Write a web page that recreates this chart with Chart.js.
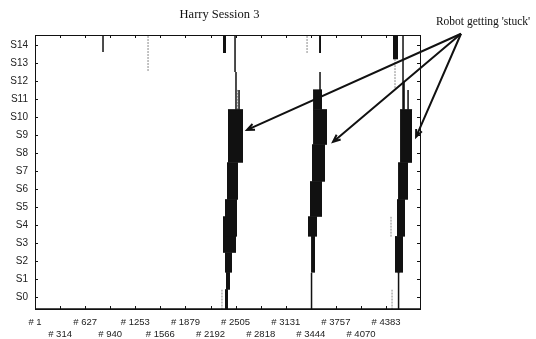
<!DOCTYPE html>
<html>
<head>
<meta charset="utf-8">
<title>Harry Session 3</title>
<script src="https://cdn.jsdelivr.net/npm/chart.js@4.4.0/dist/chart.umd.min.js"></script>
<style>
  html, body { margin: 0; padding: 0; background: #fff; }
  canvas { display: block; }
</style>
</head>
<body>
<canvas id="sessionChart" width="536" height="339"></canvas>
<script>
// y axis: robot states
const stateLabels = ['S0', 'S1', 'S2', 'S3', 'S4', 'S5', 'S6', 'S7', 'S8', 'S9', 'S10', 'S11', 'S12', 'S13', 'S14'];
// x axis: sample numbers that get a label
const sampleTicks = [1, 314, 627, 940, 1253, 1566, 1879, 2192, 2505, 2818, 3131, 3444, 3757, 4070, 4383];

// dense flipping between states shows up as solid blocks (sample from/to, state from/to)
const blockStart = [2348, 2410, 2398, 2373, 2348, 2373, 2385, 2373,   3547, 3472, 3472, 3459, 3434, 3409, 3447,   4470, 4558, 4533, 4520, 4495, 4527];
const blockEnd   = [2385, 2598, 2535, 2523, 2510, 2460, 2435, 2410,   3572, 3584, 3646, 3622, 3584, 3522, 3497,   4533, 4708, 4658, 4620, 4595, 4552];
const blockLow   = [13.55, 7.45, 5.4, 3.35, 2.45, 1.35, 0.4, -0.7,    13.55, 10.4, 8.45, 6.4, 4.45, 3.35, 1.35,   13.2, 7.45, 5.4, 3.35, 1.35, -0.7];
const blockHigh  = [14.6, 10.4, 7.45, 5.4, 4.45, 2.45, 1.35, 0.4,     14.6, 11.5, 10.4, 8.45, 6.4, 4.45, 3.35,    14.6, 10.4, 7.45, 5.4, 3.35, 1.35];

// single transitions (thin black lines)
const lineSample = [850, 2498, 2510, 2548, 3559, 3453, 4595, 4608, 4658];
const lineLow    = [13.6, 12.5, 10.4, 10.4, 11.5, -0.7, 10.4, 10.4, 10.4];
const lineHigh   = [14.6, 14.6, 12.5, 11.5, 12.5, 1.35, 14.6, 12.0, 11.5];

// faint transitions (grey, broken in the scan)
const faintSample = [1412, 2530, 2335, 3397, 4495, 4445, 4458];
const faintLow    = [12.55, 10.4, -0.7, 13.55, 11.6, 3.35, -0.7];
const faintHigh   = [14.6, 11.5, 0.4, 14.6, 13.2, 4.45, 0.4];

// annotation: text with arrows pointing at the three stuck periods
const noteText = "Robot getting 'stuck'";
const noteFrom = { x: 5319, y: 14.62 };
const noteTargets = [{ x: 2648, y: 9.28 }, { x: 3721, y: 8.61 }, { x: 4758, y: 8.89 }];

function segments(xs, lows, highs) {
  const pts = [];
  xs.forEach((x, i) => {
    pts.push({ x: x, y: lows[i] }, { x: x, y: highs[i] }, { x: x, y: null });
  });
  return pts;
}

const datasets = blockStart.map((s, i) => ({
  data: [{ x: s, y: blockHigh[i] }, { x: blockEnd[i], y: blockHigh[i] }],
  fill: { value: blockLow[i] },
  backgroundColor: '#111',
  borderColor: '#111',
  borderWidth: 1,
  pointRadius: 0
}));

datasets.push({
  data: segments(lineSample, lineLow, lineHigh),
  borderColor: '#111',
  borderWidth: 1.5,
  pointRadius: 0,
  fill: false
});

datasets.push({
  data: segments(faintSample, faintLow, faintHigh),
  borderColor: '#8a8a8a',
  borderWidth: 1,
  borderDash: [2, 1],
  pointRadius: 0,
  fill: false
});

const framePlugin = {
  id: 'frame',
  afterDatasetsDraw(chart) {
    const { ctx, chartArea: a, scales } = chart;
    ctx.save();
    ctx.strokeStyle = '#111';
    ctx.lineWidth = 1;
    ctx.strokeRect(a.left + 0.5, a.top + 0.5, a.right - a.left, a.bottom - a.top);
    ctx.beginPath();
    scales.y.ticks.forEach(t => {
      const y = Math.round(scales.y.getPixelForValue(t.value)) + 0.5;
      ctx.moveTo(a.left, y); ctx.lineTo(a.left + 3, y);
      ctx.moveTo(a.right, y); ctx.lineTo(a.right - 3, y);
    });
    scales.x.ticks.forEach(t => {
      const x = Math.round(scales.x.getPixelForValue(t.value)) + 0.5;
      ctx.moveTo(x, a.bottom); ctx.lineTo(x, a.bottom - 3);
      ctx.moveTo(x, a.top); ctx.lineTo(x, a.top + 3);
    });
    ctx.stroke();
    ctx.lineWidth = 1.5;
    ctx.beginPath();
    ctx.moveTo(a.left, a.bottom); ctx.lineTo(a.right, a.bottom);
    ctx.stroke();
    ctx.restore();
  }
};

const notesPlugin = {
  id: 'notes',
  afterDraw(chart) {
    const { ctx, chartArea: a, scales } = chart;
    ctx.save();
    ctx.fillStyle = '#111';
    ctx.font = '12.5px "Liberation Serif", serif';
    ctx.textAlign = 'center';
    ctx.textBaseline = 'middle';
    ctx.fillText('Harry Session 3', (a.left + a.right) / 2 - 8, 15);

    const fx = scales.x.getPixelForValue(noteFrom.x);
    const fy = scales.y.getPixelForValue(noteFrom.y);
    ctx.font = '11.5px "Liberation Serif", serif';
    ctx.textAlign = 'center';
    ctx.fillText(noteText, fx + 22, 22);

    ctx.strokeStyle = '#111';
    ctx.lineWidth = 2;
    noteTargets.forEach(t => {
      const tx = scales.x.getPixelForValue(t.x);
      const ty = scales.y.getPixelForValue(t.y);
      const ang = Math.atan2(ty - fy, tx - fx);
      ctx.beginPath();
      ctx.moveTo(fx, fy); ctx.lineTo(tx, ty);
      ctx.moveTo(tx - 8 * Math.cos(ang - 0.4), ty - 8 * Math.sin(ang - 0.4));
      ctx.lineTo(tx, ty);
      ctx.lineTo(tx - 8 * Math.cos(ang + 0.4), ty - 8 * Math.sin(ang + 0.4));
      ctx.stroke();
    });
    ctx.restore();
  }
};

new Chart(document.getElementById('sessionChart'), {
  type: 'line',
  data: { datasets },
  options: {
    responsive: false,
    animation: false,
    layout: { padding: { top: 35, right: 116, left: 0, bottom: 0 } },
    plugins: {
      legend: { display: false },
      title: { display: false },
      tooltip: { enabled: false }
    },
    scales: {
      x: {
        type: 'linear',
        min: 1,
        max: 4807,
        grid: { display: false, drawTicks: false },
        border: { display: false },
        afterBuildTicks: scale => { scale.ticks = sampleTicks.map(v => ({ value: v })); },
        afterFit: scale => { scale.height = 30; },
        ticks: {
          autoSkip: false,
          maxRotation: 0,
          minRotation: 0,
          padding: 8,
          color: '#222',
          font: { family: '"Liberation Sans", Arial, sans-serif', size: 9.5, lineHeight: 1.2 },
          callback: (value, index) => index % 2 === 0 ? '# ' + value : ['', '# ' + value]
        }
      },
      y: {
        type: 'linear',
        min: -0.67,
        max: 14.55,
        grid: { display: false, drawTicks: false },
        border: { display: false },
        afterBuildTicks: scale => { scale.ticks = stateLabels.map((_, i) => ({ value: i })); },
        afterFit: scale => { scale.width = 35; },
        ticks: {
          padding: 7,
          color: '#222',
          font: { family: '"Liberation Sans", Arial, sans-serif', size: 10 },
          callback: value => stateLabels[value]
        }
      }
    }
  },
  plugins: [framePlugin, notesPlugin]
});
</script>
</body>
</html>
